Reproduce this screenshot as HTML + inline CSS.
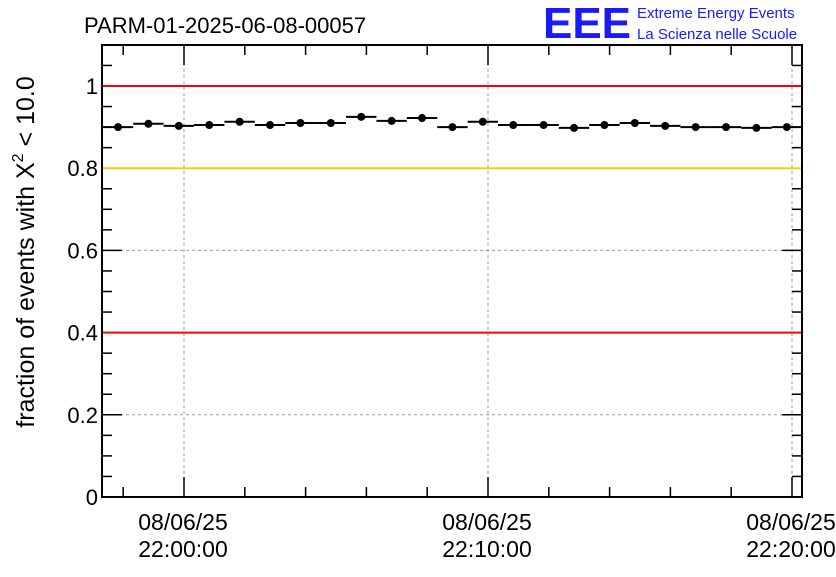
<!DOCTYPE html>
<html><head><meta charset="utf-8"><style>
body{margin:0;background:#fff;width:836px;height:572px;overflow:hidden;font-family:"Liberation Sans",sans-serif}
</style></head><body>
<svg id="chart" width="836" height="572" xmlns="http://www.w3.org/2000/svg" font-family="Liberation Sans, sans-serif">
<text x="84" y="33" font-size="22">PARM-01-2025-06-08-00057</text>
<g>
<text x="543" y="38" font-size="44" fill="#1a1aff" font-weight="bold" textLength="88" lengthAdjust="spacingAndGlyphs">EEE</text>
<text x="637" y="18" font-size="15" fill="#1a1aff">Extreme Energy Events</text>
<text x="637" y="39" font-size="15" fill="#1a1aff">La Scienza nelle Scuole</text>
</g>
<g id="grid"></g><g id="axes"></g><g id="refs"></g><g id="marks"></g>
<text transform="translate(34,252) rotate(-90)" text-anchor="middle" font-size="25">fraction of events with X<tspan font-size="16" dy="-11">2</tspan><tspan dy="11"> &lt; 10.0</tspan></text>
</svg>
<script>
const minutes=[-2.17,-1.17,-0.17,0.83,1.83,2.83,3.83,4.83,5.83,6.83,7.83,8.83,9.83,10.83,11.83,12.83,13.83,14.83,15.83,16.83,17.83,18.83,19.83];
const fractions=[0.900,0.908,0.903,0.905,0.913,0.905,0.910,0.910,0.925,0.915,0.922,0.900,0.913,0.905,0.905,0.898,0.905,0.910,0.903,0.900,0.900,0.898,0.900];
const yTicks=[0,0.2,0.4,0.6,0.8,1];
const yTickLabels=["0","0.2","0.4","0.6","0.8","1"];
const xTicks=[0,10,20];
const xTickLabels=[["08/06/25","22:00:00"],["08/06/25","22:10:00"],["08/06/25","22:20:00"]];
const refLines=[{v:1,c:"#ff0000",n:"upper-limit-line"},{v:0.8,c:"#ffcc00",n:"target-line"},{v:0.4,c:"#ff0000",n:"lower-limit-line"}];
const L=102,R=802,T=45,B=497;
const y=v=>B-v*411;
const x=m=>184+m*30.4;
const NS="http://www.w3.org/2000/svg";
function mk(p,t,a){const e=document.createElementNS(NS,t);for(const k in a)e.setAttribute(k,a[k]);p.appendChild(e);return e;}
const grid=document.getElementById('grid'),refs=document.getElementById('refs'),axes=document.getElementById('axes'),marks=document.getElementById('marks');
yTicks.forEach(v=>{if(v>0&&v<1){const l=mk(grid,'line',{x1:L,x2:R,y1:y(v),y2:y(v),stroke:'#999','stroke-dasharray':'3,3'});

}});
xTicks.forEach(m=>{const l=mk(grid,'line',{x1:x(m),x2:x(m),y1:T,y2:B,stroke:'#999','stroke-dasharray':'3,3'});

});
refLines.forEach(r=>{const l=mk(refs,'line',{x1:L+1,x2:R-1,y1:y(r.v),y2:y(r.v),stroke:r.c,'stroke-width':2});

});
const fr=mk(axes,'rect',{x:L,y:T,width:R-L,height:B-T,fill:'none',stroke:'#000','stroke-width':2});


for(let v=0;v<=1.1001;v+=0.05){const major=Math.abs(v*5-Math.round(v*5))<1e-6;const w=major?20:10;
mk(axes,'line',{x1:L,x2:L+w,y1:y(v),y2:y(v),stroke:'#000','stroke-width':1.5});
mk(axes,'line',{x1:R,x2:R-w,y1:y(v),y2:y(v),stroke:'#000','stroke-width':1.5});}
for(let m=-2;m<=20.5;m+=2){const major=m%10===0;const w=major?20:10;
mk(axes,'line',{x1:x(m),x2:x(m),y1:B,y2:B-w,stroke:'#000','stroke-width':1.5});
mk(axes,'line',{x1:x(m),x2:x(m),y1:T,y2:T+w,stroke:'#000','stroke-width':1.5});}
yTicks.forEach((v,i)=>{const t=mk(axes,'text',{x:L-4,y:y(v)+8,'text-anchor':'end','font-size':22});t.textContent=yTickLabels[i];

});
xTicks.forEach((m,i)=>{const t=mk(axes,'text',{x:x(m)-1,y:530,'text-anchor':'middle','font-size':23});


mk(t,'tspan',{x:x(m)-1,y:530}).textContent=xTickLabels[i][0];
mk(t,'tspan',{x:x(m)-1,y:557}).textContent=xTickLabels[i][1];});
minutes.forEach((m,i)=>{const g=mk(marks,'g',{});


mk(g,'line',{x1:x(m-0.5),x2:x(m+0.5),y1:y(fractions[i]),y2:y(fractions[i]),stroke:'#000','stroke-width':2});
mk(g,'circle',{cx:x(m),cy:y(fractions[i]),r:4,fill:'#000'});});
</script>
</body></html>
